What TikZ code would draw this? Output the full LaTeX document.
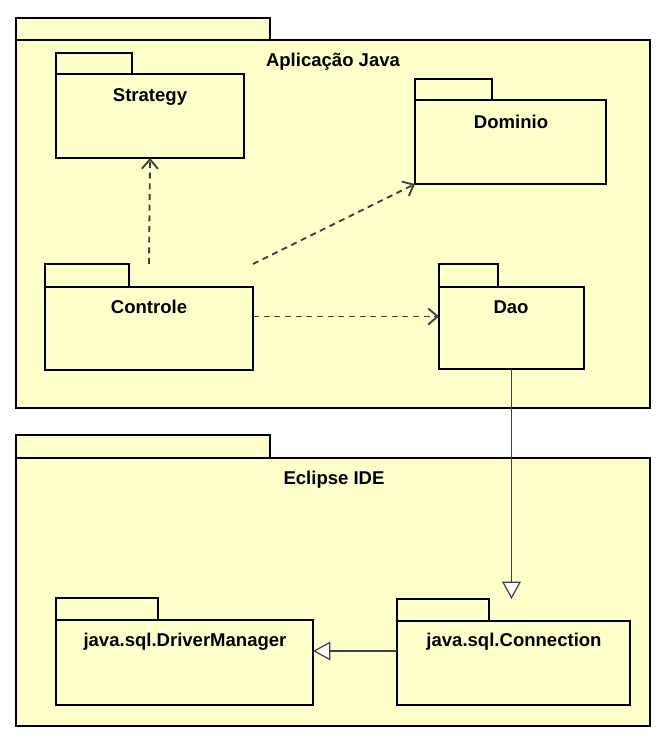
\documentclass[tikz,border=0pt]{standalone}
\usepackage{fontspec}
\setmainfont{Liberation Sans}
\usetikzlibrary{arrows.meta}
\definecolor{pkgyellow}{RGB}{255,255,204}
\definecolor{dgray}{RGB}{64,64,64}

\begin{document}
\begin{tikzpicture}[x=0.75pt,y=-0.75pt,
  pkg/.style={draw=black,line width=1.8pt,fill=pkgyellow,inner sep=0pt,outer sep=0pt,anchor=north west},
  pkgtab/.style={pkg,anchor=south west},
  pkgname/.style={font=\bfseries\fontsize{13.9}{16}\selectfont},
  dep/.style={draw=dgray,line width=1.4pt,dash pattern=on 4.5pt off 3.5pt,-{Straight Barb[length=7pt,width=12pt]}},
  gen/.style={draw=dgray,line width=0.9pt,-{Triangle[length=13pt,width=14pt,fill=white]}}]
\useasboundingbox (0,0) rectangle (666,741);
% Aplicacao Java
\node[pkg,minimum width=475.5pt,minimum height=276pt] (appJava) at (16,40) {};
\node[pkgtab,minimum width=190.5pt,minimum height=16.5pt] (appJavaTab) at (appJava.north west) {};
\node[pkgname] (appJavaName) at (333,62) {Aplicação Java};
\node[pkg,minimum width=141pt,minimum height=63pt] (strategy) at (56,74) {};
\node[pkgtab,minimum width=57pt,minimum height=15.75pt] (strategyTab) at (strategy.north west) {};
\node[pkgname] (strategyName) at (150,97) {Strategy};
\node[pkg,minimum width=143.25pt,minimum height=63pt] (dominio) at (415,100) {};
\node[pkgtab,minimum width=57.75pt,minimum height=15.75pt] (dominioTab) at (dominio.north west) {};
\node[pkgname] (dominioName) at (511,122) {Dominio};
\node[pkg,minimum width=156pt,minimum height=62.25pt] (controle) at (45,287) {};
\node[pkgtab,minimum width=63pt,minimum height=17.25pt] (controleTab) at (controle.north west) {};
\node[pkgname] (controleName) at (149,307) {Controle};
\node[pkg,minimum width=108.75pt,minimum height=61.5pt] (dao) at (439,287) {};
\node[pkgtab,minimum width=44.25pt,minimum height=17.25pt] (daoTab) at (dao.north west) {};
\node[pkgname] (daoName) at (511,307) {Dao};
% Eclipse IDE
\node[pkg,minimum width=475.5pt,minimum height=201pt] (eclipse) at (16,458) {};
\node[pkgtab,minimum width=190.5pt,minimum height=17.25pt] (eclipseTab) at (eclipse.north west) {};
\node[pkgname] (eclipseName) at (334,480) {Eclipse IDE};
\node[pkg,minimum width=192.75pt,minimum height=63.75pt] (driverManager) at (56,620) {};
\node[pkgtab,minimum width=76.5pt,minimum height=16.5pt] (driverManagerTab) at (driverManager.north west) {};
\node[pkgname] (driverManagerName) at (185,642) {java.sql.DriverManager};
\node[pkg,minimum width=174.75pt,minimum height=63pt] (connection) at (397,621) {};
\node[pkgtab,minimum width=69pt,minimum height=16.5pt] (connectionTab) at (connection.north west) {};
\node[pkgname] (connectionName) at (514,642) {java.sql.Connection};
% dependencias
\draw[dep] (controle.north |- controleTab.north) -- (strategy.south);
\draw[dep] (controle.east |- controleTab.north) -- (dominio.south west);
\coordinate (controleOut) at ([yshift=9pt]controle.east);
\draw[dep] (controleOut) -- (controleOut -| dao.west);
\draw[gen] (dao.south) -- (dao.south |- connectionTab.north);
\coordinate (connectionOut) at ([yshift=9pt]connection.west);
\draw[gen] (connectionOut) -- (connectionOut -| driverManager.east);
\end{tikzpicture}
\end{document}
